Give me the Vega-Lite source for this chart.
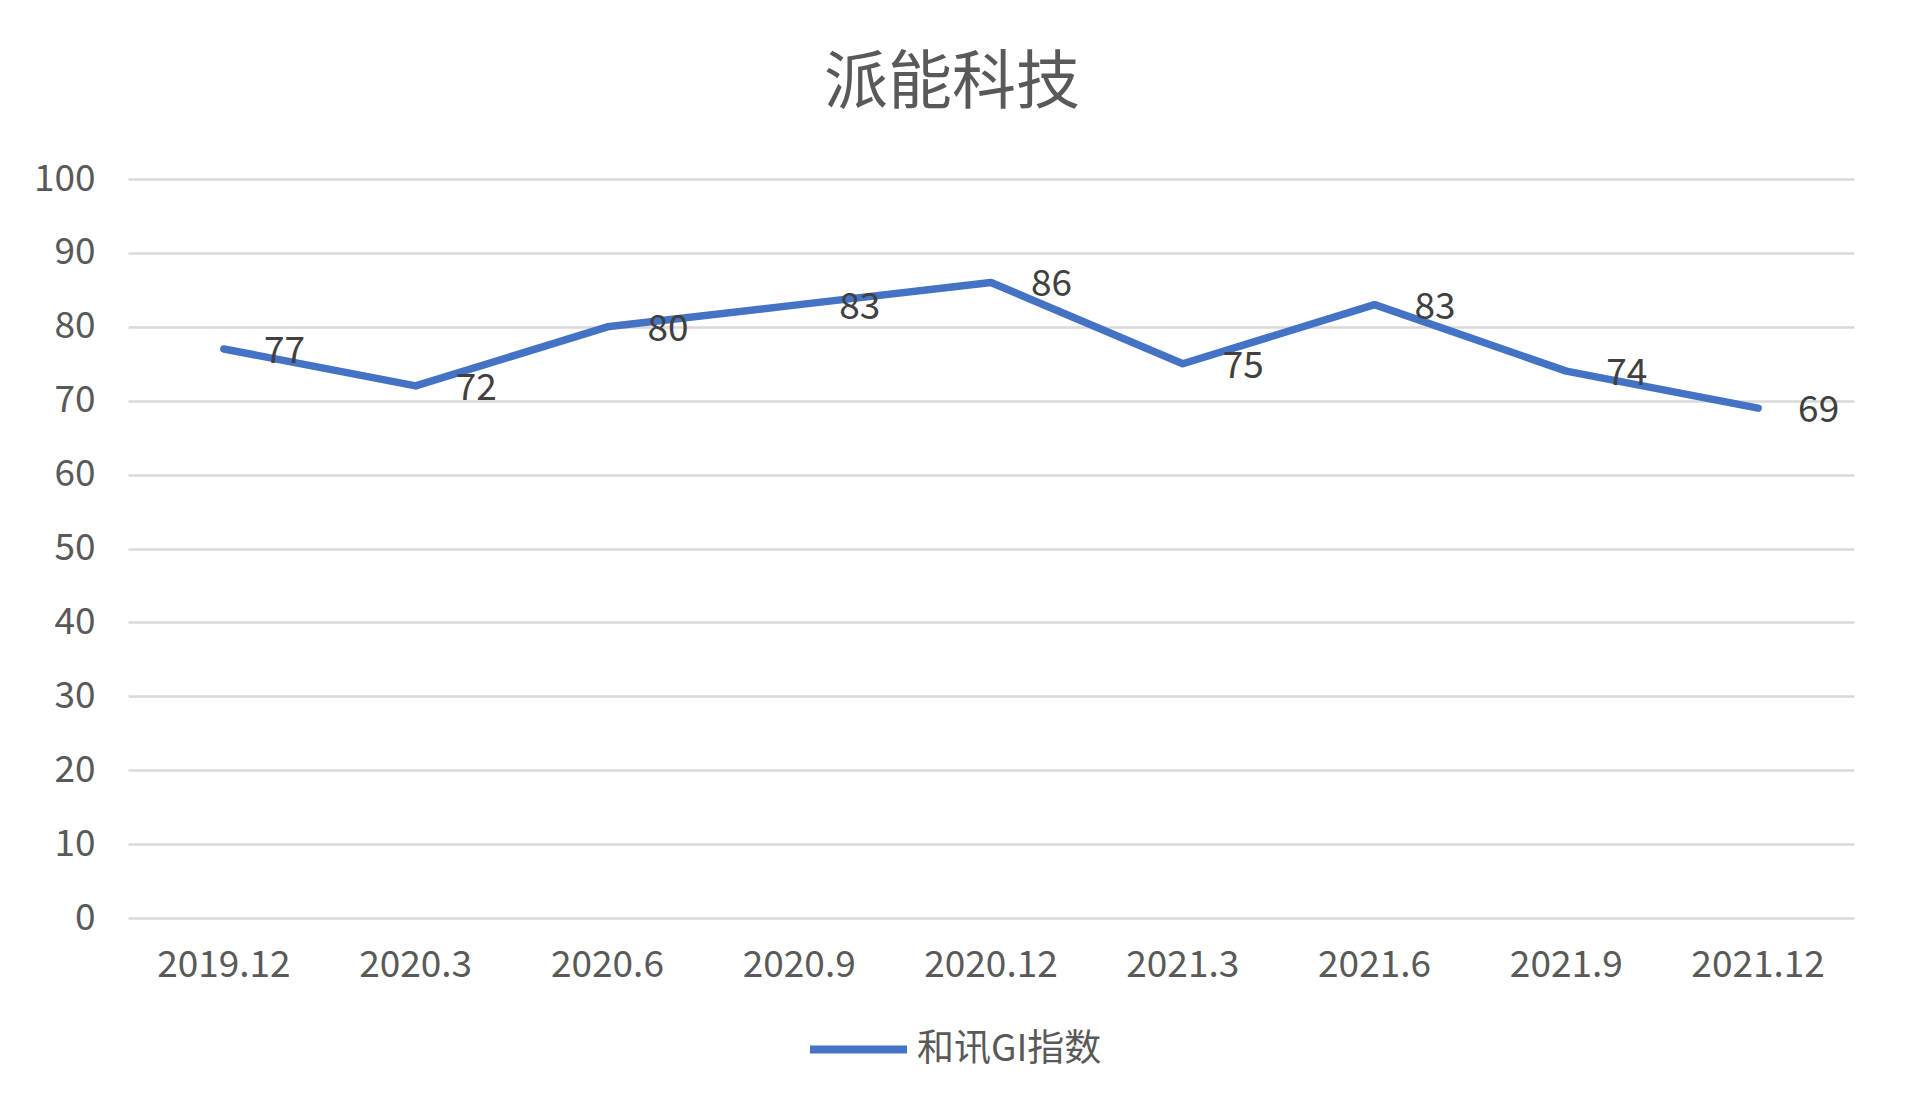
{
  "$schema": "https://vega.github.io/schema/vega-lite/v6.json",
  "width": 1726,
  "height": 739,
  "autosize": {"type": "none"},
  "padding": {"left": 128, "top": 179, "right": 52, "bottom": 195},
  "background": "white",
  "title": {
    "text": "派能科技",
    "fontSize": 64,
    "font": "Noto Sans CJK SC",
    "fontWeight": "normal",
    "color": "#595959",
    "anchor": "middle",
    "dx": -39,
    "offset": 44
  },
  "data": {
    "values": [
      {"period": "2019.12", "value": 77, "series": "和讯GI指数"},
      {"period": "2020.3", "value": 72, "series": "和讯GI指数"},
      {"period": "2020.6", "value": 80, "series": "和讯GI指数"},
      {"period": "2020.9", "value": 83, "series": "和讯GI指数"},
      {"period": "2020.12", "value": 86, "series": "和讯GI指数"},
      {"period": "2021.3", "value": 75, "series": "和讯GI指数"},
      {"period": "2021.6", "value": 83, "series": "和讯GI指数"},
      {"period": "2021.9", "value": 74, "series": "和讯GI指数"},
      {"period": "2021.12", "value": 69, "series": "和讯GI指数"}
    ]
  },
  "encoding": {
    "x": {
      "field": "period",
      "type": "ordinal",
      "sort": null,
      "scale": {"type": "band", "paddingInner": 0, "paddingOuter": 0},
      "axis": {
        "title": null,
        "labelAngle": 0,
        "labelFont": "Noto Sans CJK SC",
        "labelFontSize": 37,
        "labelColor": "#595959",
        "labelPadding": 29,
        "ticks": false,
        "domain": false,
        "grid": false
      }
    },
    "y": {
      "field": "value",
      "type": "quantitative",
      "scale": {"domain": [0, 100], "nice": false},
      "axis": {
        "title": null,
        "values": [0, 10, 20, 30, 40, 50, 60, 70, 80, 90, 100],
        "labelFont": "Noto Sans CJK SC",
        "labelFontSize": 37,
        "labelColor": "#595959",
        "labelPadding": 33,
        "ticks": false,
        "domain": false,
        "grid": true,
        "gridColor": "#d9d9d9",
        "gridWidth": 2.5
      }
    }
  },
  "layer": [
    {
      "mark": {"type": "line", "strokeWidth": 7.5, "strokeCap": "round", "strokeJoin": "round"},
      "encoding": {
        "color": {
          "field": "series",
          "type": "nominal",
          "scale": {"range": ["#4472C4"]},
          "legend": {
            "title": null,
            "orient": "none",
            "legendX": 678,
            "legendY": 818,
            "direction": "horizontal",
            "symbolType": "stroke",
            "symbolStrokeWidth": 8,
            "symbolSize": 9400,
            "labelFont": "Noto Sans CJK SC",
            "labelFontSize": 37,
            "labelColor": "#595959",
            "labelOffset": 6,
            "labelLimit": 400
          }
        }
      }
    },
    {
      "mark": {
        "type": "text",
        "align": "left",
        "baseline": "middle",
        "dx": 40,
        "dy": 3,
        "font": "Noto Sans CJK SC",
        "fontSize": 37,
        "color": "#404040"
      },
      "encoding": {
        "text": {"field": "value", "type": "quantitative"}
      }
    }
  ],
  "config": {
    "view": {"stroke": null}
  }
}
